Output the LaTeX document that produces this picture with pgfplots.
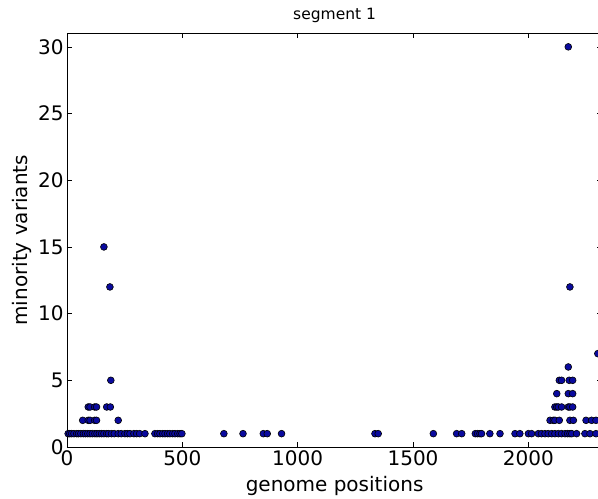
\documentclass[border=0pt]{standalone}
\usepackage{pgfplots}
\pgfplotsset{compat=1.18}
\usepackage{fontspec}
\setmainfont{DejaVu Sans}
\definecolor{dotblue}{rgb}{0.04,0.04,0.62}
\begin{document}
\begin{tikzpicture}
\begin{axis}[
  at={(0,0)}, anchor=south west,
  scale only axis, width=535.2bp, height=413.5bp,
  xmin=0, xmax=2320, ymin=0, ymax=31,
  xtick={0,500,1000,1500,2000}, ytick={0,5,10,15,20,25,30},
  tick align=inside, tick pos=both, major tick length=5bp,
  tick style={black, line width=0.6bp},
  axis line style={black, line width=0.8bp},
  ticklabel style={font=\fontsize{20bp}{24bp}\selectfont},
  /pgf/number format/assume math mode=true,
  /pgf/number format/1000 sep={},
  title={segment 1},
  title style={font=\fontsize{15.5bp}{18bp}\selectfont, yshift=1bp},
  xlabel={genome positions},
  ylabel={minority variants},
  label style={font=\fontsize{20bp}{24bp}\selectfont},
  xlabel style={yshift=-4bp},
]
\addplot[only marks, mark=*, mark size=3.4bp,
  mark options={fill=dotblue, draw=black, line width=0.6bp}] table {
x y
5 1
12 1
20 1
30 1
42 1
50 1
60 1
71 1
80 1
90 1
100 1
110 1
121 1
130 1
140 1
150 1
160 1
172 1
180 1
193 1
205 1
222 1
235 1
251 1
262 1
273 1
290 1
302 1
315 1
338 1
381 1
393 1
403 1
415 1
425 1
436 1
446 1
458 1
468 1
480 1
490 1
498 1
68 2
92 2
100 2
120 2
128 2
222 2
92 3
100 3
120 3
128 3
172 3
188 3
190 5
186 12
160 15
680 1
763 1
851 1
868 1
930 1
1335 1
1349 1
1588 1
1689 1
1711 1
1770 1
1780 1
1790 1
1797 1
1833 1
1877 1
1942 1
1963 1
2000 1
2014 1
2043 1
2057 1
2072 1
2086 1
2101 1
2115 1
2130 1
2144 1
2159 1
2170 1
2180 1
2188 1
2209 1
2245 1
2267 1
2293 1
2094 2
2108 2
2115 2
2134 2
2180 2
2195 2
2250 2
2274 2
2293 2
2115 3
2123 3
2130 3
2144 3
2173 3
2180 3
2192 3
2123 4
2173 4
2192 4
2134 5
2144 5
2177 5
2192 5
2173 6
2301 7
2180 12
2173 30
};
\end{axis}
\pgfresetboundingbox
\path[use as bounding box] (-67bp,-52bp) rectangle (531bp,447bp);
\end{tikzpicture}
\end{document}
